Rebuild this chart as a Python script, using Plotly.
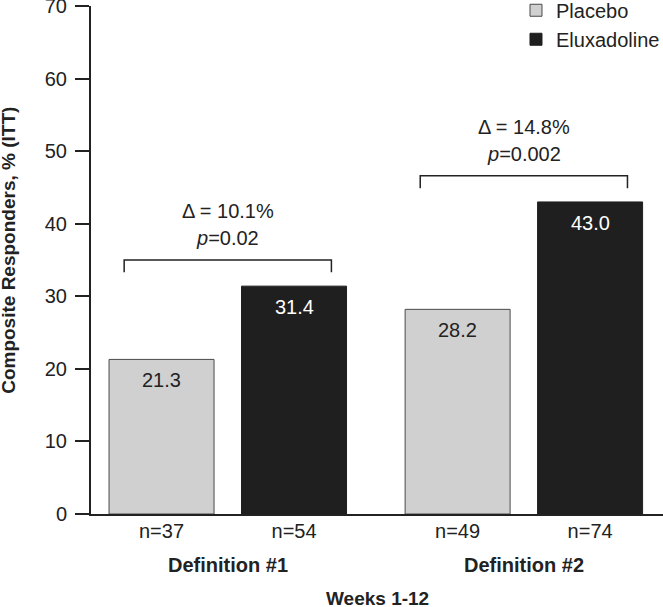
import plotly.graph_objects as go

# ---- data ----
groups = ["Definition #1", "Definition #2"]
placebo = [21.3, 28.2]
eluxadoline = [31.4, 43.0]
n_placebo = [37, 49]
n_elux = [54, 74]
p_values = ["0.02", "0.002"]
series_names = ["Placebo", "Eluxadoline"]
y_ticks = [0, 10, 20, 30, 40, 50, 60, 70]
x_title = "Weeks 1-12"
y_title = "Composite Responders, % (ITT)"

# ---- style ----
FONT = "Liberation Sans, Arial, Helvetica, sans-serif"
INK = "#222222"
C_PLA = "#d0d0d0"
C_ELU = "#1f1f20"
FS = 20
OFF = 0.2238           # half distance between bar centres in a group
xpos = list(range(len(groups)))

fig = go.Figure()
fig.add_bar(x=xpos, y=placebo, name=series_names[0], legendgroup="a",
            marker=dict(color=C_PLA, line=dict(color="#4a4a4a", width=1)))
fig.add_bar(x=xpos, y=eluxadoline, name=series_names[1], legendgroup="b",
            marker=dict(color=C_ELU, line=dict(color=C_ELU, width=1)))

ann = []
shapes = []
for i, g in enumerate(groups):
    ann.append(dict(x=i - OFF, y=placebo[i], text=f"{placebo[i]:.1f}", showarrow=False,
                    yanchor="middle", yshift=-21, font=dict(size=FS, color=INK)))
    ann.append(dict(x=i + OFF, y=eluxadoline[i], text=f"{eluxadoline[i]:.1f}", showarrow=False,
                    yanchor="middle", yshift=-21, font=dict(size=FS, color="white")))
    ann.append(dict(x=i, y=0, yref="y", text=f"<b>{g}</b>", showarrow=False, yanchor="middle",
                    yshift=-51, font=dict(size=FS, color=INK)))
    top = max(placebo[i], eluxadoline[i]) + 3.6
    drop = 1.7
    xl, xr = i - 0.35, i + 0.35
    shapes.append(dict(type="path", xref="x", yref="y",
                       path=f"M {xl},{top-drop} L {xl},{top} L {xr},{top} L {xr},{top-drop}",
                       line=dict(color=INK, width=1.5)))
    delta = eluxadoline[i] - placebo[i]
    ann.append(dict(x=i, y=top, text=f"\u0394 = {delta:.1f}%", showarrow=False, yanchor="middle",
                    yshift=49, font=dict(size=FS, color=INK)))
    ann.append(dict(x=i, y=top, text=f"<i>p</i>={p_values[i]}", showarrow=False, yanchor="middle",
                    yshift=22, font=dict(size=FS, color=INK)))

ann.append(dict(x=0.5, xref="paper", y=0, yref="paper", text=f"<b>{x_title}</b>", showarrow=False,
                yanchor="middle", yshift=-84, font=dict(size=19, color=INK)))
ann.append(dict(x=-0.1434, xref="paper", y=0.52, yref="paper", text=f"<b>{y_title}</b>",
                showarrow=False, textangle=-90, xanchor="center", yanchor="middle",
                font=dict(size=19, color=INK)))

tickvals = []
ticktext = []
for i in xpos:
    tickvals += [i - OFF, i + OFF]
    ticktext += [f"n={n_placebo[i]}", f"n={n_elux[i]}"]

fig.update_layout(
    width=663, height=607,
    margin=dict(l=91, r=0, t=6, b=93, autoexpand=False),
    paper_bgcolor="white", plot_bgcolor="white",
    font=dict(family=FONT, size=FS, color=INK),
    barmode="group", bargap=0.105, bargroupgap=0.2075,
    showlegend=True,
    legend=dict(x=0.743, y=1.03, xanchor="left", yanchor="top",
                bgcolor="rgba(0,0,0,0)", font=dict(size=FS, color=INK), tracegroupgap=0),
    annotations=ann, shapes=shapes,
)
fig.update_xaxes(range=[-0.462, 1.470], showline=True, linecolor=INK, linewidth=2, automargin=False,
                 tickvals=tickvals, ticktext=ticktext, ticks="", showgrid=False, zeroline=False,
                 ticklabelstandoff=-2, tickfont=dict(size=FS, color=INK), ticklabeloverflow="allow")
fig.update_yaxes(range=[0, 70], tickvals=y_ticks, showline=True, linecolor=INK, linewidth=2, automargin=False,
                 ticks="outside", ticklen=14, tickwidth=2, tickcolor=INK, showgrid=False, zeroline=False,
                 ticklabelstandoff=4, tickfont=dict(size=20, color=INK), ticklabeloverflow="allow")

fig.write_html("out.html", config={"displayModeBar": False},
               post_script="document.body.style.margin='0';")
